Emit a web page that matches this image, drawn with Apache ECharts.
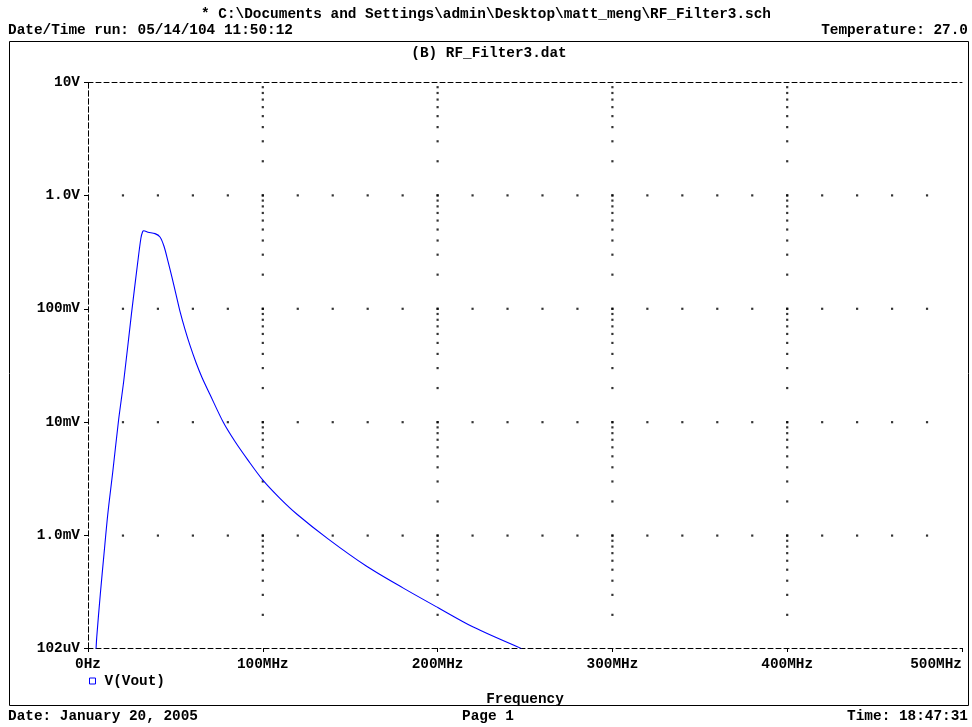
<!DOCTYPE html>
<html>
<head>
<meta charset="utf-8">
<script src="https://cdn.jsdelivr.net/npm/echarts@6/dist/echarts.min.js"></script>
<style>html,body{margin:0;padding:0;background:#fff;}#c{width:972px;height:727px;}</style>
</head>
<body>
<div id="c"></div>
<script>
// ---- data ----
const freqMHz = [4.58, 4.98, 7.04, 9.15, 11.33, 14.24, 17.45, 20.48, 24.89, 28.38, 30.26, 31.24, 31.92, 34.32, 38.33, 41.19, 43.48, 45.77, 48.05, 50.34, 52.63, 55.49, 58.35, 61.78, 65.22, 69.79, 77.4, 84.1, 91.5, 100.3, 109.8, 119.4, 137.5, 159.4, 180.4, 200.1, 220.4, 248.1];
const voutV = [9.8e-5, 1.26e-4, 3.04e-4, 6.87e-4, 1.55e-3, 3.73e-3, 0.0103, 0.0233, 0.091, 0.252, 0.419, 0.478, 0.488, 0.473, 0.46, 0.43, 0.356, 0.262, 0.189, 0.134, 0.0948, 0.0658, 0.0475, 0.0336, 0.0248, 0.01754, 9.98e-3, 6.75e-3, 4.63e-3, 3.05e-3, 2.13e-3, 1.55e-3, 9.3e-4, 5.36e-4, 3.44e-4, 2.32e-4, 1.56e-4, 1.007e-4];
const seriesName = 'V(Vout)';
const xTickValues = [0, 100, 200, 300, 400, 500];
const xTickLabels = ['0Hz', '100MHz', '200MHz', '300MHz', '400MHz', '500MHz'];
const yTickValues = [1.02e-4, 1e-3, 1e-2, 1e-1, 1, 10];
const yTickLabels = ['102uV', '1.0mV', '10mV', '100mV', '1.0V', '10V'];
const gridColumnsMHz = [100, 200, 300, 400];
const decadeRowsV = [1e-3, 1e-2, 1e-1, 1];
const rowDotStepMHz = 20;
const titleText = '* C:\\Documents and Settings\\admin\\Desktop\\matt_meng\\RF_Filter3.sch';
const runText = 'Date/Time run: 05/14/104 11:50:12';
const tempText = 'Temperature: 27.0';
const plotTitle = '(B) RF_Filter3.dat';
const xName = 'Frequency';
const dateText = 'Date: January 20, 2005';
const pageText = 'Page 1';
const timeText = 'Time: 18:47:31';

// ---- build ----
const FONT = 'Liberation Mono';
const FS = 14.4;
const txt = {fontFamily: FONT, fontWeight: 'bold', fontSize: FS, fill: '#000'};
const yMin = yTickValues[0], yMax = yTickValues[yTickValues.length - 1];

const lineData = freqMHz.map((f, i) => [f, voutV[i]]);

// dotted grid: minor log positions on major columns, 20 MHz steps on decade rows
const dots = [];
for (const x of gridColumnsMHz) {
  for (let e = -4; e <= 0; e++) {
    for (let d = 1; d <= 9; d++) {
      const v = d * Math.pow(10, e);
      if (v > yMin && v < yMax) dots.push([x, v]);
    }
  }
}
for (const v of decadeRowsV) {
  for (let x = rowDotStepMHz; x < 500; x += rowDotStepMHz) dots.push([x, v]);
}

function yLabel(v) {
  const lv = Math.log10(v);
  for (let i = 0; i < yTickValues.length; i++) {
    if (Math.abs(Math.log10(yTickValues[i]) - lv) < 0.02) return yTickLabels[i];
  }
  return '';
}
function xLabel(v) {
  const i = xTickValues.indexOf(Math.round(v));
  return i >= 0 ? xTickLabels[i] : '';
}

const dash = {color: '#000', width: 1, type: [5, 3]};
const axisFont = {fontFamily: FONT, fontWeight: 'bold', fontSize: FS, color: '#000'};

const chart = echarts.init(document.getElementById('c'), null, {renderer: 'canvas'});
chart.setOption({
  animation: false,
  backgroundColor: '#fff',
  grid: {left: 88, right: 10, top: 82, bottom: 79, containLabel: false},
  legend: {
    show: true, left: 89, top: 674, padding: 0, itemWidth: 6, itemHeight: 6, itemGap: 4,
    data: [{name: seriesName, icon: 'rect', itemStyle: {color: '#fff', borderColor: '#0000ff', borderWidth: 1}}],
    textStyle: Object.assign({}, axisFont, {padding: [0, 0, 0, 4]})
  },
  xAxis: [{
    type: 'value', min: 0, max: 500, interval: 100, position: 'bottom',
    name: xName, nameLocation: 'middle', nameGap: 44, nameTextStyle: axisFont,
    axisLine: {show: true, lineStyle: dash},
    axisTick: {show: true, length: 4, lineStyle: {color: '#000'}},
    axisLabel: Object.assign({}, axisFont, {margin: 9, formatter: xLabel, alignMaxLabel: 'right'}),
    splitLine: {show: false}
  }, {
    type: 'value', min: 0, max: 500, interval: 100, position: 'top',
    axisLine: {show: true, lineStyle: dash},
    axisTick: {show: false}, axisLabel: {show: false}, splitLine: {show: false}
  }],
  yAxis: [{
    type: 'log', logBase: 10, min: yMin, max: yMax, position: 'left',
    axisLine: {show: true, lineStyle: dash},
    axisTick: {show: true, length: 4, lineStyle: {color: '#000'}},
    axisLabel: Object.assign({}, axisFont, {margin: 8, formatter: yLabel}),
    splitLine: {show: false}, minorTick: {show: false}
  }, {
    type: 'log', logBase: 10, min: yMin, max: yMax, position: 'right',
    axisLine: {show: true, lineStyle: dash},
    axisTick: {show: false}, axisLabel: {show: false}, splitLine: {show: false}
  }],
  series: [{
    type: 'scatter', name: 'grid', data: dots, symbol: 'rect', symbolSize: 2.2,
    itemStyle: {color: '#000'}, silent: true, z: 1, legendHoverLink: false
  }, {
    type: 'line', name: seriesName, data: lineData, showSymbol: false, smooth: 0.3,
    lineStyle: {color: '#0000ff', width: 1.1}, itemStyle: {color: '#0000ff'}, z: 3, clip: true
  }],
  graphic: [
    {type: 'text', left: 'center', top: 7, style: Object.assign({text: titleText}, txt)},
    {type: 'text', left: 8, top: 23, style: Object.assign({text: runText}, txt)},
    {type: 'text', right: 4, top: 23, style: Object.assign({text: tempText}, txt)},
    {type: 'rect', shape: {x: 9.5, y: 41.5, width: 959, height: 664}, style: {fill: 'none', stroke: '#000', lineWidth: 1}, z: -1},
    {type: 'text', x: 489, y: 46, style: Object.assign({text: plotTitle, textAlign: 'center'}, txt)},
    {type: 'text', left: 8, top: 709, style: Object.assign({text: dateText}, txt)},
    {type: 'text', x: 488, y: 709, style: Object.assign({text: pageText, textAlign: 'center'}, txt)},
    {type: 'text', right: 4, top: 709, style: Object.assign({text: timeText}, txt)}
  ]
});
</script>
</body>
</html>
